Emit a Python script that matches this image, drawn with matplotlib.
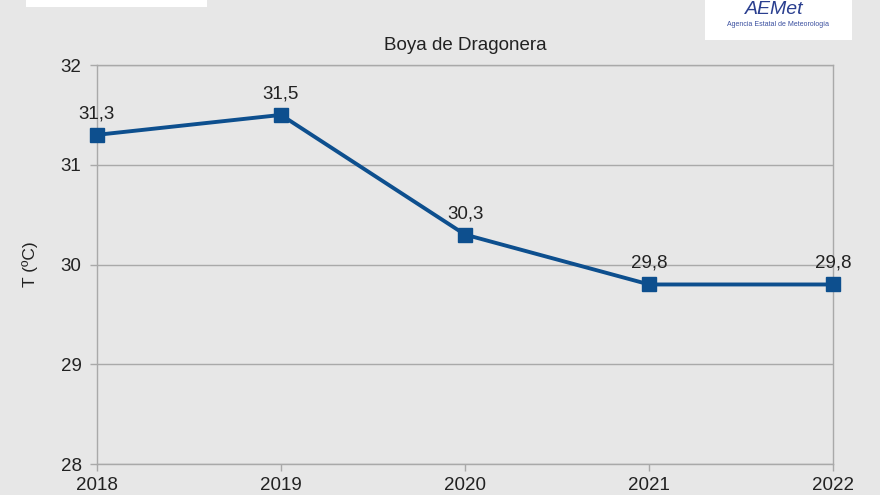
import matplotlib.pyplot as plt
from matplotlib.patches import Rectangle

plt.rcParams['font.family'] = ['Liberation Sans', 'DejaVu Sans']

# Data
years = [2018, 2019, 2020, 2021, 2022]
temps = [31.3, 31.5, 30.3, 29.8, 29.8]
labels = ['31,3', '31,5', '30,3', '29,8', '29,8']
y_ticks = [28, 29, 30, 31, 32]

bg = '#e7e7e7'
blue = '#0d4f8e'
grid = '#a9a9a9'
fs = 13.5

fig = plt.figure(figsize=(8.8, 4.95), dpi=100)
fig.patch.set_facecolor(bg)
ax = fig.add_axes([0.110, 0.0626, 0.837, 0.806])
ax.set_facecolor('none')

ax.plot(years, temps, color=blue, lw=2.8, marker='s', markersize=10, zorder=3, clip_on=False)
for x, y, t in zip(years, temps, labels):
    ax.annotate(t, (x, y), xytext=(0, 9), textcoords='offset points',
                ha='center', va='bottom', fontsize=fs, color='#222222')

ax.set_xlim(2018, 2022)
ax.set_ylim(28, 32)
ax.set_xticks(years)
ax.set_yticks(y_ticks)
ax.tick_params(axis='both', colors=grid, labelcolor='#222222', labelsize=fs, length=5, width=1)
ax.tick_params(axis='x', pad=4)
ax.tick_params(axis='y', pad=6)
ax.grid(axis='y', color=grid, lw=1)
for s in ax.spines.values():
    s.set_color(grid)
    s.set_linewidth(1)
ax.set_ylabel('T (ºC)', fontsize=12.5, color='#222222', labelpad=16)
ax.set_title('Boya de Dragonera', fontsize=fs, color='#222222', pad=11)

# logos at top
fig.patches.append(Rectangle((26 / 880, 1 - 7 / 495), 181 / 880, 7 / 495,
                             transform=fig.transFigure, facecolor='white', edgecolor='none'))
fig.patches.append(Rectangle((705 / 880, 1 - 40 / 495), 147 / 880, 40 / 495,
                             transform=fig.transFigure, facecolor='white', edgecolor='none'))
fig.text(774 / 880, 1 - 10 / 495, 'AEMet', ha='center', va='center', fontsize=14,
         color='#2a3f8f', style='italic')
fig.text(778 / 880, 1 - 24 / 495, 'Agencia Estatal de Meteorología', ha='center', va='center',
         fontsize=5, color='#3a4f9f')

fig.savefig('out.png', dpi=100, facecolor=fig.get_facecolor())
